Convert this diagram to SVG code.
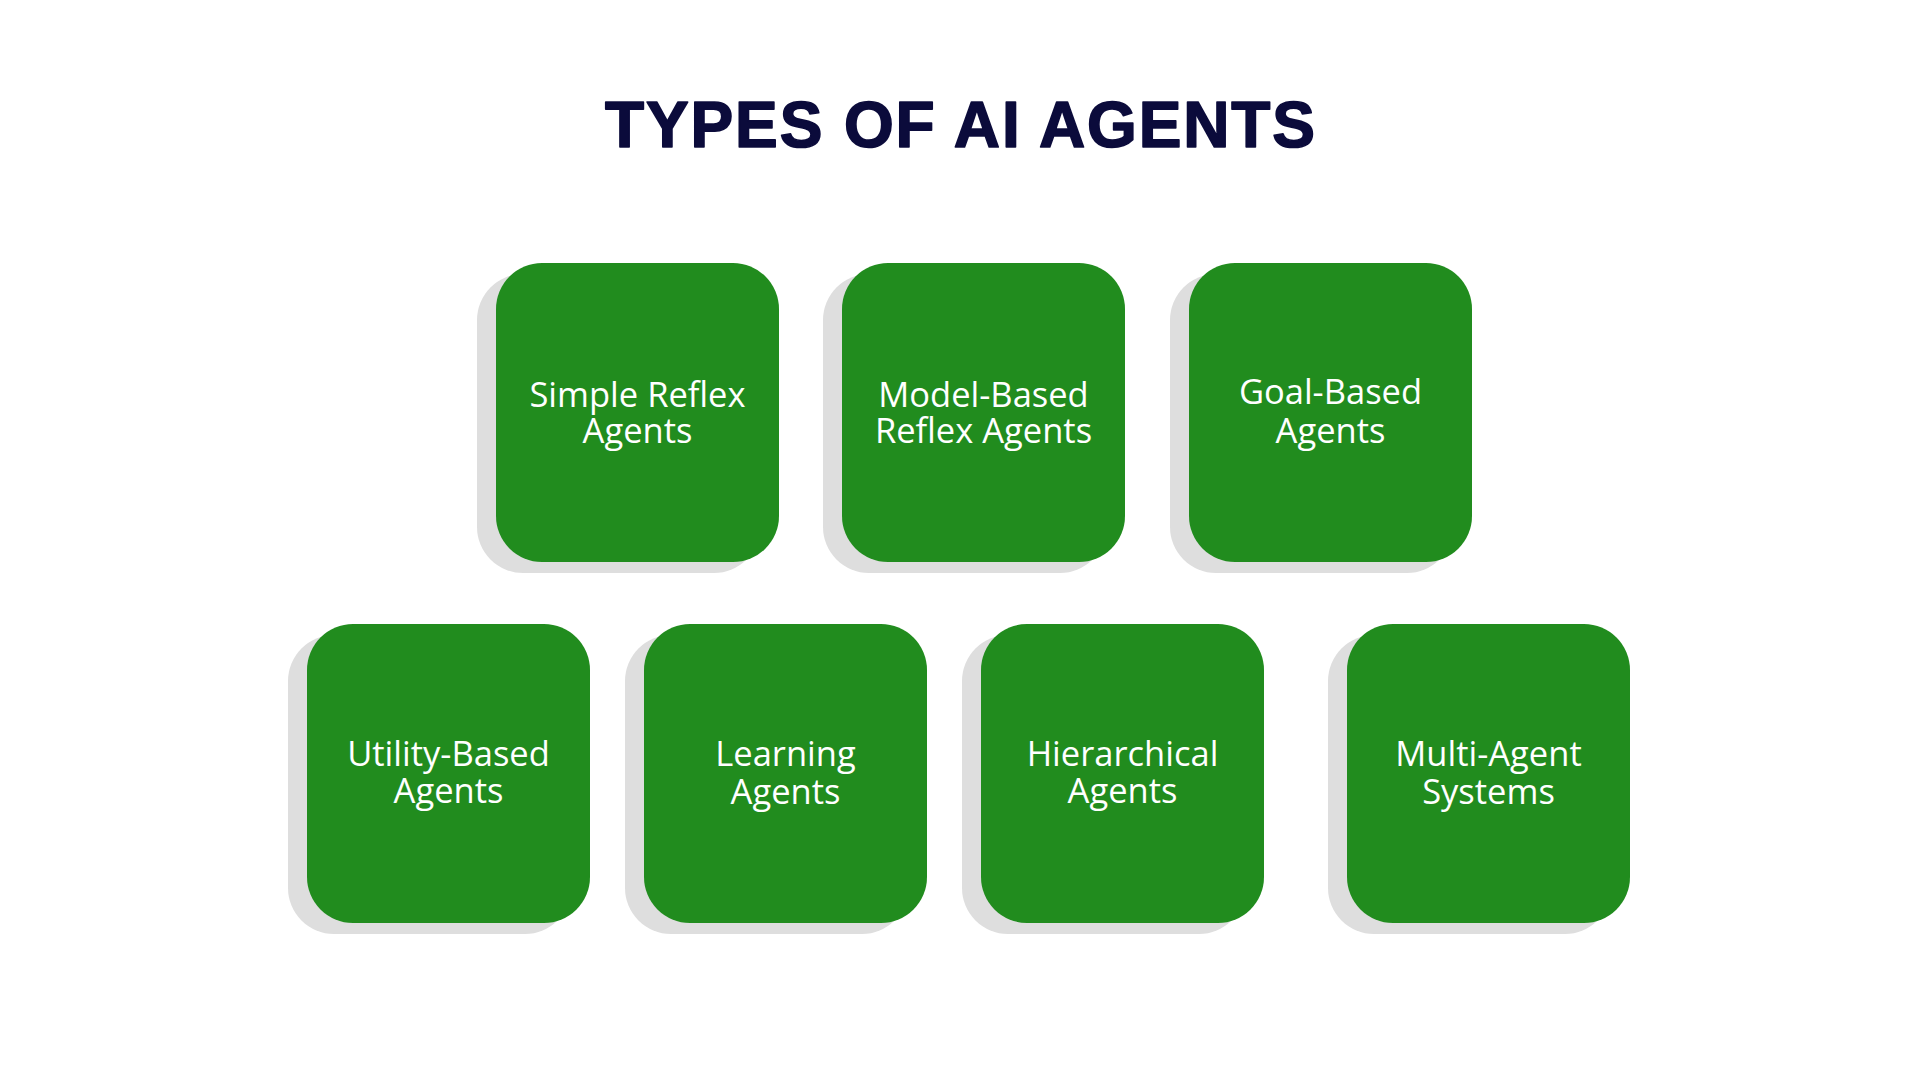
<svg xmlns="http://www.w3.org/2000/svg" width="1920" height="1080" viewBox="0 0 1920 1080">
<style>
.title{font-family:"Liberation Sans","Arial",sans-serif;font-weight:700;font-size:64px;fill:#0b0b3b;stroke:#0b0b3b;stroke-width:1.6px;stroke-linejoin:round}
.shadow{fill:#dedede}
.box{fill:#218c1e}
.lbl{font-family:"Open Sans","Liberation Sans",sans-serif;font-weight:500;font-size:34.5px;fill:#ffffff;text-anchor:middle}
</style>
<rect width="1920" height="1080" fill="#ffffff"/>
<text class="title" x="605" y="147" textLength="710" lengthAdjust="spacing">TYPES OF AI AGENTS</text>
<g id="node-simple-reflex">
<rect class="shadow" x="477" y="274" width="283" height="299" rx="46"/>
<rect class="box" x="496" y="263" width="283" height="299" rx="46"/>
<text class="lbl" x="637.5" y="407">Simple Reflex</text>
<text class="lbl" x="637.5" y="443">Agents</text>
</g>
<g id="node-model-based">
<rect class="shadow" x="823" y="274" width="283" height="299" rx="46"/>
<rect class="box" x="842" y="263" width="283" height="299" rx="46"/>
<text class="lbl" x="983.5" y="407">Model-Based</text>
<text class="lbl" x="983.5" y="443">Reflex Agents</text>
</g>
<g id="node-goal-based">
<rect class="shadow" x="1170" y="274" width="283" height="299" rx="46"/>
<rect class="box" x="1189" y="263" width="283" height="299" rx="46"/>
<text class="lbl" x="1330.5" y="404">Goal-Based</text>
<text class="lbl" x="1330.5" y="443">Agents</text>
</g>
<g id="node-utility-based">
<rect class="shadow" x="288" y="635" width="283" height="299" rx="46"/>
<rect class="box" x="307" y="624" width="283" height="299" rx="46"/>
<text class="lbl" x="448.5" y="766">Utility-Based</text>
<text class="lbl" x="448.5" y="803">Agents</text>
</g>
<g id="node-learning">
<rect class="shadow" x="625" y="635" width="283" height="299" rx="46"/>
<rect class="box" x="644" y="624" width="283" height="299" rx="46"/>
<text class="lbl" x="785.5" y="766">Learning</text>
<text class="lbl" x="785.5" y="804">Agents</text>
</g>
<g id="node-hierarchical">
<rect class="shadow" x="962" y="635" width="283" height="299" rx="46"/>
<rect class="box" x="981" y="624" width="283" height="299" rx="46"/>
<text class="lbl" x="1122.5" y="766">Hierarchical</text>
<text class="lbl" x="1122.5" y="803">Agents</text>
</g>
<g id="node-multi-agent">
<rect class="shadow" x="1328" y="635" width="283" height="299" rx="46"/>
<rect class="box" x="1347" y="624" width="283" height="299" rx="46"/>
<text class="lbl" x="1488.5" y="766">Multi-Agent</text>
<text class="lbl" x="1488.5" y="804">Systems</text>
</g>
<g id="connectors"/>
</svg>
